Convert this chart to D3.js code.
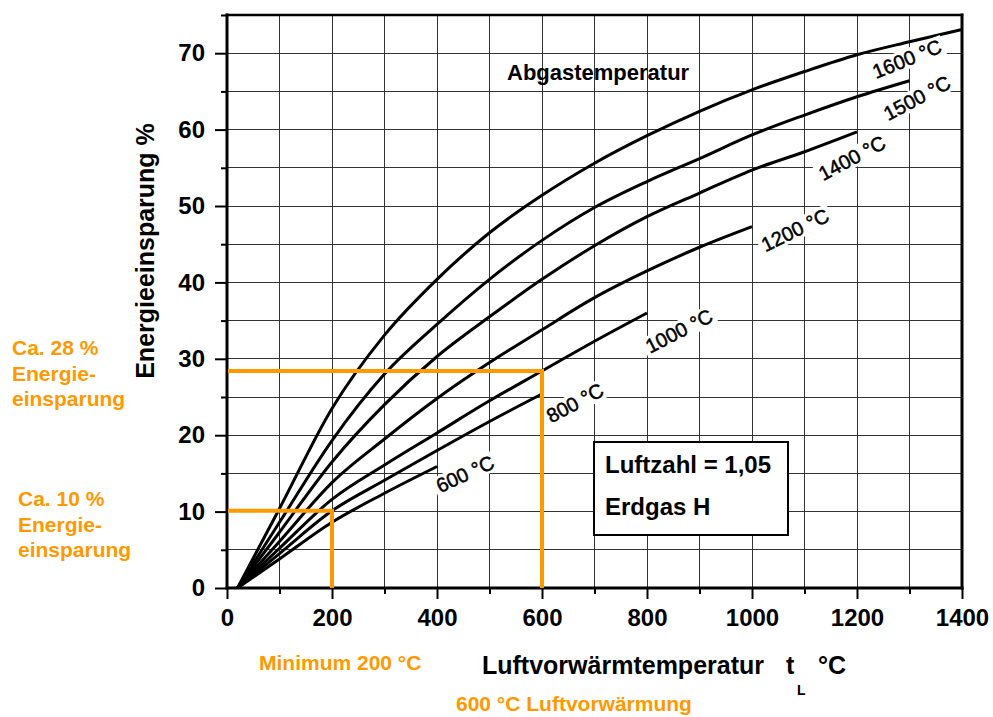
<!DOCTYPE html>
<html>
<head>
<meta charset="utf-8">
<script src="https://cdn.jsdelivr.net/npm/d3@7"></script>
<style>
  html, body { margin: 0; padding: 0; background: #fff; }
  svg { display: block; font-family: "Liberation Sans", Arial, sans-serif; }
</style>
</head>
<body>
<div id="chart"></div>
<script>
// Air preheat temperature (°C) at which each curve is sampled
const preheatTemps = [20, 100, 200, 300, 400, 500, 600, 700, 800, 900, 1000, 1100, 1200, 1300, 1400];

// Energy saving (%) per flue gas temperature, indexed like preheatTemps
const saving1600 = [0, 10.4, 23.5, 33.1, 40.4, 46.5, 51.4, 55.6, 59.2, 62.4, 65.2, 67.6, 69.8, 71.5, 73.1];
const saving1500 = [0, 8.6, 19.3, 28.0, 34.5, 40.4, 45.5, 49.8, 53.2, 56.2, 59.3, 61.9, 64.3, 66.4];
const saving1400 = [0, 7.3, 16.5, 24.0, 30.3, 35.5, 40.4, 44.8, 48.6, 51.7, 54.7, 57.1, 59.7];
const saving1200 = [0, 6.1, 13.8, 19.5, 24.8, 29.5, 33.8, 38.0, 41.5, 44.6, 47.3];
const saving1000 = [0, 5.2, 11.6, 16.1, 20.3, 24.5, 28.4, 32.3, 36.0];
const saving800  = [0, 4.5, 10.1, 14.1, 18.0, 21.8, 25.4];
const saving600  = [0, 3.8, 8.6, 12.4, 15.9];

const curveLabels = ["1600 °C", "1500 °C", "1400 °C", "1200 °C", "1000 °C", "800 °C", "600 °C"];
const curveSeries = [saving1600, saving1500, saving1400, saving1200, saving1000, saving800, saving600];

// Axis ticks
const xTicks = [0, 100, 200, 300, 400, 500, 600, 700, 800, 900, 1000, 1100, 1200, 1300, 1400];
const xTickLabels = ["0", "", "200", "", "400", "", "600", "", "800", "", "1000", "", "1200", "", "1400"];
const yTicks = [0, 5, 10, 15, 20, 25, 30, 35, 40, 45, 50, 55, 60, 65, 70, 75];
const yTickLabels = ["0", "", "10", "", "20", "", "30", "", "40", "", "50", "", "60", "", "70", ""];

// Highlighted operating points: preheat temperature and the curve they sit on
const guideTemps = [200, 600];
const guideCurves = ["800 °C", "1000 °C"];

const W = 993, H = 717;
const svg = d3.select("#chart").append("svg").attr("width", W).attr("height", H);

const x = d3.scaleLinear().domain([0, 1400]).range([227, 962]);
const y = d3.scaleLinear().domain([0, 75]).range([588, 15]);

// Grid
const grid = svg.append("g").attr("stroke", "#333").attr("stroke-width", 1).attr("shape-rendering", "crispEdges");
grid.selectAll("line.v").data(xTicks.filter(t => t > 0 && t < 1400)).join("line")
  .attr("x1", d => x(d)).attr("x2", d => x(d)).attr("y1", y(75)).attr("y2", y(0));
grid.selectAll("line.h").data(yTicks.filter(t => t > 0 && t < 75)).join("line")
  .attr("x1", x(0)).attr("x2", x(1400)).attr("y1", d => y(d)).attr("y2", d => y(d));

// Axes
const fontTick = "bold 24px 'Liberation Sans', Arial, sans-serif";
const yAxis = d3.axisLeft(y).tickValues(yTicks).tickSize(6).tickSizeOuter(0).tickPadding(16)
  .tickFormat((d, i) => yTickLabels[i]);
const gy = svg.append("g").attr("transform", `translate(${x(0)},0)`).call(yAxis);
gy.select(".domain").remove();
gy.selectAll(".tick line").attr("stroke", "#000").attr("stroke-width", 2)
  .attr("x2", d => (d % 10 === 0 ? -12 : -6));
gy.selectAll(".tick text").style("font", fontTick).attr("fill", "#000");

const xAxis = d3.axisBottom(x).tickValues(xTicks).tickSize(6).tickSizeOuter(0).tickPadding(15)
  .tickFormat((d, i) => xTickLabels[i]);
const gx = svg.append("g").attr("transform", `translate(0,${y(0)})`).call(xAxis);
gx.select(".domain").remove();
gx.selectAll(".tick line").attr("stroke", "#000").attr("stroke-width", 2)
  .attr("y2", d => (d % 200 === 0 ? 11 : 6));
gx.selectAll(".tick text").style("font", fontTick).attr("fill", "#000");

// Frame
const frame = svg.append("g").attr("stroke", "#000").attr("stroke-width", 3).attr("stroke-linecap", "square");
frame.append("line").attr("x1", x(0)).attr("x2", x(0)).attr("y1", y(75)).attr("y2", y(0));
frame.append("line").attr("x1", x(0)).attr("x2", x(1400)).attr("y1", y(0)).attr("y2", y(0));
frame.append("line").attr("x1", x(0)).attr("x2", x(1400)).attr("y1", y(75)).attr("y2", y(75)).attr("stroke-width", 2.5);
frame.append("line").attr("x1", x(1400)).attr("x2", x(1400)).attr("y1", y(75)).attr("y2", y(0));

// Curves
const line = d3.line().x(d => x(d[0])).y(d => y(d[1])).curve(d3.curveMonotoneX);
const curves = curveSeries.map((vals, i) => ({
  label: curveLabels[i],
  points: vals.map((v, j) => [preheatTemps[j], v])
}));
svg.append("g").selectAll("path").data(curves).join("path")
  .attr("d", d => line(d.points))
  .attr("fill", "none").attr("stroke", "#000").attr("stroke-width", 3)
  .attr("stroke-linejoin", "round");

// Curve labels, rotated along the curves, on a white plate that breaks the grid
const labelLayout = {
  "1600 °C": { cx: 907, cy: 59, angle: -22 },
  "1500 °C": { cx: 917, cy: 98, angle: -28 },
  "1400 °C": { cx: 852, cy: 158, angle: -28 },
  "1200 °C": { cx: 795, cy: 230, angle: -26 },
  "1000 °C": { cx: 679, cy: 331, angle: -27 },
  "800 °C":  { cx: 575, cy: 403, angle: -28 },
  "600 °C":  { cx: 465, cy: 474, angle: -25 }
};
const lbl = svg.append("g").selectAll("g").data(curves).join("g")
  .attr("transform", d => {
    const L = labelLayout[d.label];
    return `translate(${L.cx},${L.cy}) rotate(${L.angle})`;
  });
lbl.append("rect").attr("fill", "#fff");
lbl.append("text").text(d => d.label)
  .attr("text-anchor", "middle").attr("dy", "0.35em")
  .style("font", "20px 'Liberation Sans', Arial, sans-serif")
  .attr("fill", "#000").attr("stroke", "#000").attr("stroke-width", 0.5);
lbl.each(function () {
  const g = d3.select(this);
  const b = g.select("text").node().getBBox();
  g.select("rect").attr("x", b.x - 3).attr("y", b.y + 1).attr("width", b.width + 6).attr("height", b.height - 2);
});

// Orange guides to the highlighted operating points
const orange = "#ff9900";
const guides = guideTemps.map((t, i) => {
  const series = curveSeries[curveLabels.indexOf(guideCurves[i])];
  return { t, v: series[preheatTemps.indexOf(t)] };
});
svg.append("g").selectAll("path").data(guides).join("path")
  .attr("d", d => `M${x(0) + 1},${y(d.v)}H${x(d.t)}V${y(0)}`)
  .attr("fill", "none").attr("stroke", orange).attr("stroke-width", 4)
  .attr("stroke-linejoin", "miter");

// Annotation box
svg.append("rect").attr("x", 594).attr("y", 442).attr("width", 194).attr("height", 93)
  .attr("fill", "#fff").attr("stroke", "#000").attr("stroke-width", 2);
const boxFont = "bold 24px 'Liberation Sans', Arial, sans-serif";
svg.append("text").attr("x", 605).attr("y", 473).style("font", boxFont).text("Luftzahl = 1,05");
svg.append("text").attr("x", 605).attr("y", 515).style("font", boxFont).text("Erdgas H");

// Titles
svg.append("text").attr("x", 507).attr("y", 80)
  .style("font", "bold 22px 'Liberation Sans', Arial, sans-serif").text("Abgastemperatur");

svg.append("text").attr("transform", "translate(145,251) rotate(-90)")
  .attr("text-anchor", "middle").attr("dy", "0.35em")
  .style("font", "bold 25px 'Liberation Sans', Arial, sans-serif").text("Energieeinsparung %");

const xt = "bold 25px 'Liberation Sans', Arial, sans-serif";
svg.append("text").attr("x", 482).attr("y", 674).style("font", xt).text("Luftvorwärmtemperatur");
svg.append("text").attr("x", 786).attr("y", 674).style("font", xt).text("t");
svg.append("text").attr("x", 797).attr("y", 695).style("font", "bold 14px 'Liberation Sans', Arial, sans-serif").text("L");
svg.append("text").attr("x", 818).attr("y", 674).style("font", xt).text("°C");

// Orange side notes
const noteFont = "bold 21px 'Liberation Sans', Arial, sans-serif";
const notes = [
  { x: 12, y: 355, lines: ["Ca. 28 %", "Energie-", "einsparung"] },
  { x: 18, y: 506, lines: ["Ca. 10 %", "Energie-", "einsparung"] }
];
notes.forEach(n => {
  const t = svg.append("text").attr("x", n.x).attr("y", n.y).style("font", noteFont).attr("fill", orange);
  n.lines.forEach((s, i) => t.append("tspan").attr("x", n.x).attr("dy", i === 0 ? 0 : 25.5).text(s));
});
svg.append("text").attr("x", 259).attr("y", 670).style("font", noteFont).attr("fill", orange).text("Minimum 200 °C");
svg.append("text").attr("x", 456).attr("y", 711).style("font", noteFont).attr("fill", orange).text("600 °C Luftvorwärmung");
</script>
</body>
</html>
